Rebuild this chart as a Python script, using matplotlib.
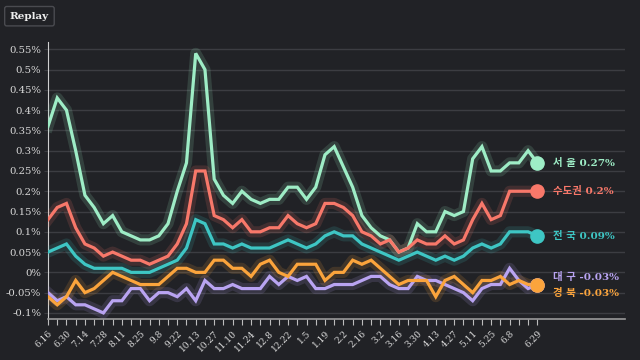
import matplotlib
matplotlib.use("Agg")
import matplotlib.pyplot as plt
import numpy as np

# 주간 아파트 매매가격 변동률 (%)
dates = ["6.16", "6.23", "6.30", "7.7", "7.14", "7.21", "7.28", "8.4", "8.11", "8.18",
         "8.25", "9.1", "9.8", "9.15", "9.22", "10.6", "10.13", "10.20", "10.27", "11.3",
         "11.10", "11.17", "11.24", "12.1", "12.8", "12.15", "12.22", "12.29", "1.5", "1.12",
         "1.19", "1.26", "2.2", "2.9", "2.16", "2.23", "3.2", "3.9", "3.16", "3.23",
         "3.30", "4.6", "4.13", "4.20", "4.27", "5.4", "5.11", "5.18", "5.25", "6.1",
         "6.8", "6.15", "6.22", "6.29"]
shown_dates = ["6.16", "6.30", "7.14", "7.28", "8.11", "8.25", "9.8", "9.22", "10.13",
               "10.27", "11.10", "11.24", "12.8", "12.22", "1.5", "1.19", "2.2", "2.16",
               "3.2", "3.16", "3.30", "4.13", "4.27", "5.11", "5.25", "6.8", "6.29"]

seoul = [0.36, 0.43, 0.40, 0.30, 0.19, 0.16, 0.12, 0.14, 0.10, 0.09,
         0.08, 0.08, 0.09, 0.12, 0.20, 0.27, 0.54, 0.50, 0.23, 0.19,
         0.17, 0.20, 0.18, 0.17, 0.18, 0.18, 0.21, 0.21, 0.18, 0.21,
         0.29, 0.31, 0.26, 0.21, 0.14, 0.11, 0.09, 0.08, 0.05, 0.06,
         0.12, 0.10, 0.10, 0.15, 0.14, 0.15, 0.28, 0.31, 0.25, 0.25,
         0.27, 0.27, 0.30, 0.27]
capital = [0.13, 0.16, 0.17, 0.11, 0.07, 0.06, 0.04, 0.05, 0.04, 0.03,
           0.03, 0.02, 0.03, 0.04, 0.07, 0.12, 0.25, 0.25, 0.14, 0.13,
           0.11, 0.13, 0.10, 0.10, 0.11, 0.11, 0.14, 0.12, 0.11, 0.12,
           0.17, 0.17, 0.16, 0.14, 0.10, 0.09, 0.07, 0.08, 0.05, 0.06,
           0.08, 0.07, 0.07, 0.09, 0.07, 0.08, 0.13, 0.17, 0.13, 0.14,
           0.20, 0.20, 0.20, 0.20]
nation = [0.05, 0.06, 0.07, 0.04, 0.02, 0.01, 0.01, 0.01, 0.01, 0.00,
          0.00, 0.00, 0.01, 0.02, 0.03, 0.06, 0.13, 0.12, 0.07, 0.07,
          0.06, 0.07, 0.06, 0.06, 0.06, 0.07, 0.08, 0.07, 0.06, 0.07,
          0.09, 0.10, 0.09, 0.09, 0.07, 0.06, 0.05, 0.04, 0.03, 0.04,
          0.05, 0.04, 0.03, 0.04, 0.03, 0.04, 0.06, 0.07, 0.06, 0.07,
          0.10, 0.10, 0.10, 0.09]
daegu = [-0.05, -0.07, -0.06, -0.08, -0.08, -0.09, -0.10, -0.07, -0.07, -0.04,
         -0.04, -0.07, -0.05, -0.05, -0.06, -0.04, -0.07, -0.02, -0.04, -0.04,
         -0.03, -0.04, -0.04, -0.04, -0.01, -0.03, -0.01, -0.02, -0.01, -0.04,
         -0.04, -0.03, -0.03, -0.03, -0.02, -0.01, -0.01, -0.03, -0.04, -0.04,
         -0.01, -0.02, -0.02, -0.03, -0.04, -0.05, -0.07, -0.04, -0.03, -0.03,
         0.01, -0.02, -0.04, -0.03]
gyeongbuk = [-0.06, -0.08, -0.06, -0.02, -0.05, -0.04, -0.02, 0.00, -0.01, -0.02,
             -0.03, -0.03, -0.03, -0.01, 0.01, 0.01, 0.00, 0.00, 0.03, 0.03,
             0.01, 0.01, -0.01, 0.02, 0.03, 0.00, -0.01, 0.02, 0.02, 0.02,
             -0.02, 0.00, 0.00, 0.03, 0.02, 0.03, 0.01, -0.01, -0.03, -0.02,
             -0.02, -0.02, -0.06, -0.02, -0.01, -0.03, -0.05, -0.02, -0.02, -0.01,
             -0.03, -0.02, -0.03, -0.03]

names = ["서 울", "수도권", "전 국", "대 구", "경 북"]
series = [seoul, capital, nation, daegu, gyeongbuk]
colors = ["#9eedc6", "#f8786a", "#3ec6c4", "#b9a4f2", "#fba43c"]
label_dy = [0, 0, 0, 8, -8]  # 겹치는 라벨 띄우기 (pixels)

bg = "#212226"
fig = plt.figure(figsize=(6.4, 3.6), dpi=100, facecolor=bg)
ax = fig.add_axes([0.075, 0.1139, 0.9016, 0.7694])
ax.set_facecolor(bg)

x = np.arange(len(dates))
for name, vals, c, dy in zip(names, series, colors, label_dy):
    ax.plot(x, vals, color=c, lw=8, alpha=0.15, solid_joinstyle="round", zorder=3)
    ax.plot(x, vals, color=c, lw=2.3, solid_joinstyle="miter", zorder=4)
    ax.plot(x[-1], vals[-1], "o", color=c, ms=9.5, zorder=5)
    ax.annotate(f"{name} {vals[-1]:g}%", xy=(x[-1], vals[-1]), xytext=(16, dy),
                textcoords="offset pixels", va="center", ha="left", color=c,
                fontsize=7.5, fontweight="bold",
                family=["DejaVu Serif", "Noto Sans CJK KR"])

ax.set_xlim(0, 62.5)
ax.set_ylim(-0.115, 0.568)

yt = np.arange(-0.1, 0.551, 0.05)
ax.set_yticks(yt)
ax.set_yticklabels([f"{round(v, 2):g}%" for v in yt], family="DejaVu Serif",
                   fontsize=7.3, color="#d8d8d8")
ax.grid(axis="y", color="#3c3d42", lw=1.0, zorder=1)
ax.tick_params(axis="y", length=3, color="#3c3d42", pad=2)

ax.set_xticks(x)
ax.set_xticklabels([d if d in shown_dates else "" for d in dates], rotation=45,
                   ha="right", rotation_mode="anchor", family="DejaVu Serif",
                   fontsize=6.5, color="#d8d8d8")
ax.tick_params(axis="x", length=4, color="#bdbdbd", pad=3)

for s in ["top", "right"]:
    ax.spines[s].set_visible(False)
ax.spines["left"].set_color("#cfcfcf")
ax.spines["left"].set_linewidth(0.8)
ax.spines["bottom"].set_color("#9a9a9a")
ax.spines["bottom"].set_linewidth(1.2)

fig.text(0.046, 0.955, "Replay", ha="center", va="center", fontsize=7.5,
         fontweight="bold", family="DejaVu Serif", color="#eeeeee",
         bbox=dict(boxstyle="round,pad=0.5,rounding_size=0.2", fc=bg, ec="#4a4b50", lw=1))

fig.savefig("out.png", dpi=100, facecolor=bg)
